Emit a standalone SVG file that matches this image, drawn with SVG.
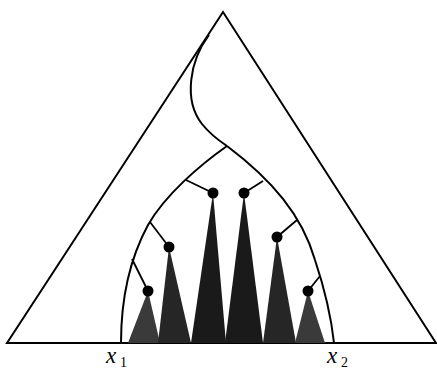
<svg xmlns="http://www.w3.org/2000/svg" width="437" height="371" viewBox="0 0 437 371">
<style>
.ln{fill:none;stroke:#000;stroke-width:2;stroke-linejoin:miter}
.br{fill:none;stroke:#000;stroke-width:1.8}
.dot{fill:#000}
.lbl{font-family:"Liberation Serif",serif;font-style:italic;font-size:23px;fill:#000}
.sub{font-family:"Liberation Serif",serif;font-size:14px;fill:#000}
</style>
<g id="triangle">
<path class="ln" d="M7,343 L223,12 L436,343 Z"/>
</g>
<g id="spikes">
<path d="M148,291 L128,343 L160,343 Z" fill="#3a3a3a"/>
<path d="M169,247 L158,343 L191,343 Z" fill="#262626"/>
<path d="M213,193 L191,343 L226,343 Z" fill="#1a1a1a"/>
<path d="M244,193 L225,343 L263,343 Z" fill="#1a1a1a"/>
<path d="M277,237 L263,343 L296,343 Z" fill="#262626"/>
<path d="M308,291 L295,343 L325,343 Z" fill="#3a3a3a"/>
</g>
<g id="connectors">
<path class="ln" d="M209,35 C190,60 183,100 202,124 C210,134 218,140 227,146"/>
<path class="ln" d="M227,146 C272,180 302,215 315,260 C325,290 331,315 334,343"/>
<path class="ln" d="M227,146 C200,165 165,195 148,225 C128,262 121,300 121,343"/>
<path class="br" d="M186,180 L213,193"/>
<path class="br" d="M263,181 L244,193"/>
<path class="br" d="M150,222 L169,247"/>
<path class="br" d="M297,220 L277,237"/>
<path class="br" d="M132,259 L148,291"/>
<path class="br" d="M320,276 L308,291"/>
</g>
<g id="dots">
<circle class="dot" cx="213" cy="193" r="5.5"/>
<circle class="dot" cx="244" cy="193" r="5.5"/>
<circle class="dot" cx="169" cy="247" r="5.5"/>
<circle class="dot" cx="277" cy="237" r="5.5"/>
<circle class="dot" cx="148" cy="291" r="5.5"/>
<circle class="dot" cx="308" cy="291" r="5.5"/>
</g>
<g id="labels">
<text class="lbl" x="106" y="363">x</text><text class="sub" x="120" y="367">1</text>
<text class="lbl" x="327" y="363">x</text><text class="sub" x="341" y="367">2</text>
</g>
</svg>
